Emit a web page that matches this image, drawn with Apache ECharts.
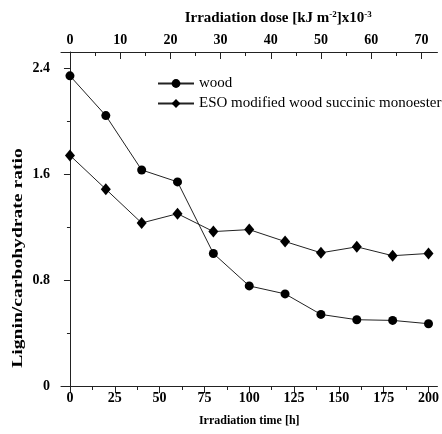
<!DOCTYPE html>
<html>
<head>
<meta charset="utf-8">
<script src="https://cdn.jsdelivr.net/npm/echarts@6/dist/echarts.min.js"></script>
<style>
  html, body { margin: 0; padding: 0; background: #fff; }
  #main { width: 442px; height: 434px; }
</style>
</head>
<body>
<div id="main"></div>
<script>
// irradiation time [h]
const hours = [0, 20, 40, 60, 80, 100, 120, 140, 160, 180, 200]
// lignin / carbohydrate ratio
const woodRatio = [2.34, 2.04, 1.63, 1.54, 1.00, 0.755, 0.695, 0.54, 0.50, 0.495, 0.47]
const esoRatio = [1.74, 1.485, 1.23, 1.30, 1.165, 1.18, 1.09, 1.005, 1.05, 0.983, 1.00]

// tick labels
const timeTicks = [0, 25, 50, 75, 100, 125, 150, 175, 200]
const timeMinor = [12.5, 37.5, 62.5, 87.5, 112.5, 137.5, 162.5, 187.5]
const doseTicks = [0, 10, 20, 30, 40, 50, 60, 70]
const doseMinor = [5, 15, 25, 35, 45, 55, 65]
const ratioTicks = [0, 0.8, 1.6, 2.4]
const ratioMinor = [0.4, 1.2, 2.0]

// dose (x10^3 kJ m^-2) per hour of irradiation
const doseRate = 0.357
const tMin = -5, tMax = 205

const font = '"Liberation Serif", "Times New Roman", serif'
const black = '#222'

const chart = echarts.init(document.getElementById('main'))

const line = { show: true, lineStyle: { color: black, width: 1 } }

const option = {
  animation: false,
  grid: { left: 61, right: 0, top: 52, bottom: 48 },
  legend: {
    orient: 'vertical',
    left: 152,
    top: 71,
    itemWidth: 36,
    itemHeight: 11,
    itemGap: 5,
    textStyle: { fontFamily: font, fontSize: 15, color: '#000' },
    data: ['wood', 'ESO modified wood succinic monoester']
  },
  xAxis: [
    {
      type: 'value', min: tMin, max: tMax, position: 'bottom',
      axisLine: line,
      splitLine: { show: false },
      axisTick: { inside: false, length: 7, lineStyle: { color: black }, customValues: timeTicks },
      axisLabel: { customValues: timeTicks, margin: 5, fontFamily: font, fontWeight: 'bold', fontSize: 14, color: '#000' },
      name: 'Irradiation time [h]',
      nameLocation: 'middle',
      nameGap: 29,
      nameTextStyle: { fontFamily: font, fontWeight: 'bold', fontSize: 12, color: '#000' }
    },
    {
      type: 'value', min: tMin, max: tMax, position: 'bottom',
      axisLine: { show: false },
      splitLine: { show: false },
      axisTick: { inside: false, length: 4, lineStyle: { color: black }, customValues: timeMinor },
      axisLabel: { show: false }
    },
    {
      type: 'value', min: tMin * doseRate, max: tMax * doseRate, position: 'top',
      axisLine: line,
      splitLine: { show: false },
      axisTick: { inside: true, length: 7, lineStyle: { color: black }, customValues: doseTicks },
      axisLabel: { customValues: doseTicks, margin: 5, fontFamily: font, fontWeight: 'bold', fontSize: 14, color: '#000' },
      name: 'Irradiation dose [kJ m{sup|-2}]x10{sup|-3}',
      nameLocation: 'middle',
      nameGap: 26,
      nameTextStyle: {
        fontFamily: font, fontWeight: 'bold', fontSize: 15, color: '#000',
        padding: [0, 0, 0, 58],
        rich: {
          sup: { fontFamily: font, fontWeight: 'bold', fontSize: 9, verticalAlign: 'top', padding: [0, 0, 7, 0], color: '#000' }
        }
      }
    },
    {
      type: 'value', min: tMin * doseRate, max: tMax * doseRate, position: 'top',
      axisLine: { show: false },
      splitLine: { show: false },
      axisTick: { inside: true, length: 4, lineStyle: { color: black }, customValues: doseMinor },
      axisLabel: { show: false }
    }
  ],
  yAxis: [
    {
      type: 'value', min: 0, max: 2.52,
      axisLine: line,
      splitLine: { show: false },
      axisTick: { show: true, inside: false, length: 6, lineStyle: { color: black }, customValues: ratioTicks },
      axisLabel: { customValues: ratioTicks, margin: 11, fontFamily: font, fontWeight: 'bold', fontSize: 14, color: '#000' }
    },
    {
      type: 'value', min: 0, max: 2.52, position: 'left',
      axisLine: { show: false },
      splitLine: { show: false },
      axisTick: { show: true, inside: false, length: 3, lineStyle: { color: black }, customValues: ratioMinor },
      axisLabel: { show: false }
    }
  ],
  graphic: [
    {
      type: 'text',
      x: 18,
      y: 258,
      rotation: Math.PI / 2,
      scaleX: 1.4,
      style: {
        text: 'Lignin/carbohydrate ratio',
        font: 'bold 14px ' + font,
        fill: '#000',
        align: 'center',
        verticalAlign: 'middle'
      }
    }
  ],
  series: [
    {
      name: 'wood',
      type: 'line',
      data: hours.map((h, i) => [h, woodRatio[i]]),
      symbol: 'circle',
      symbolSize: 9,
      itemStyle: { color: '#000' },
      lineStyle: { color: black, width: 1 }
    },
    {
      name: 'ESO modified wood succinic monoester',
      type: 'line',
      data: hours.map((h, i) => [h, esoRatio[i]]),
      symbol: 'diamond',
      symbolSize: [10, 12],
      itemStyle: { color: '#000' },
      lineStyle: { color: black, width: 1 }
    }
  ]
}

chart.setOption(option)
</script>
</body>
</html>
